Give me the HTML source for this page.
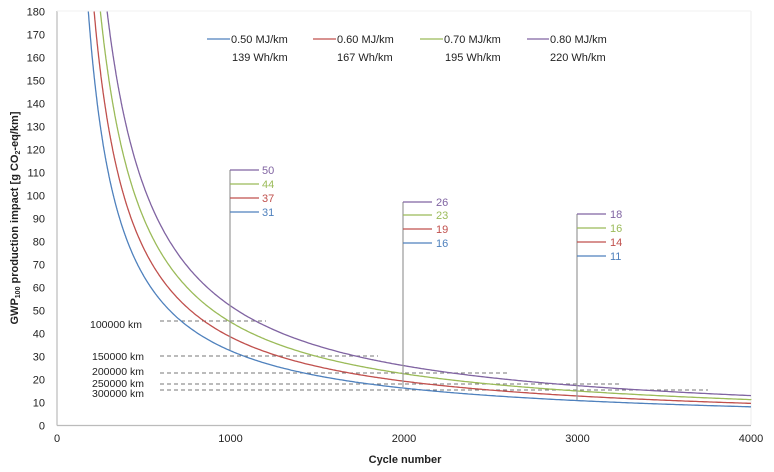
<!DOCTYPE html>
<html><head><meta charset="utf-8"><style>
body{margin:0;background:#fff}
svg{display:block;font-family:"Liberation Sans",Arial,sans-serif}
</style></head><body>
<svg width="774" height="472" viewBox="0 0 774 472" xmlns="http://www.w3.org/2000/svg">
<rect width="774" height="472" fill="#fff"/>
<line x1="57" y1="11" x2="57" y2="425.5" stroke="#bbb" stroke-width="1.2"/>
<line x1="57" y1="425.5" x2="751" y2="425.5" stroke="#bbb" stroke-width="1.2"/>
<line x1="751" y1="11" x2="751" y2="425" stroke="#eee" stroke-width="1"/>
<line x1="57" y1="11" x2="751" y2="11" stroke="#f2f2f2" stroke-width="1"/>
<g font-size="11" fill="#222" text-anchor="end" id="yt"></g>
<g font-size="11" fill="#222" text-anchor="middle" id="xt"></g>
<text x="405" y="463" font-size="11" font-weight="bold" text-anchor="middle" fill="#222">Cycle number</text>
<text transform="translate(18,218) rotate(-90)" font-size="11" font-weight="bold" text-anchor="middle" fill="#222">GWP<tspan font-size="7" dy="2">100</tspan><tspan dy="-2"> production impact [g CO</tspan><tspan font-size="7" dy="2">2</tspan><tspan dy="-2">-eq/km]</tspan></text>
<g stroke="#777" stroke-dasharray="4,3" stroke-width="1">
<line x1="160" y1="321" x2="266" y2="321"/>
<line x1="160" y1="356" x2="378" y2="356"/>
<line x1="160" y1="373" x2="509" y2="373"/>
<line x1="160" y1="384" x2="620" y2="384"/>
<line x1="160" y1="390" x2="708" y2="390"/>
</g>
<g font-size="10.5" fill="#222">
<text x="90" y="328">100000 km</text>
<text x="92" y="360">150000 km</text>
<text x="92" y="375">200000 km</text>
<text x="92" y="387">250000 km</text>
<text x="92" y="397">300000 km</text>
</g>
<g id="curves" fill="none" stroke-width="1.3"></g>
<g stroke="#999" stroke-width="1.2">
<line x1="230" y1="170" x2="230" y2="350"/>
<line x1="403" y1="202" x2="403" y2="387"/>
<line x1="577" y1="214" x2="577" y2="400"/>
</g>
<g stroke-width="1.3">
<line x1="230" y1="170" x2="259" y2="170" stroke="#8064a2"/>
<line x1="230" y1="184" x2="259" y2="184" stroke="#9bbb59"/>
<line x1="230" y1="198" x2="259" y2="198" stroke="#c0504d"/>
<line x1="230" y1="212" x2="259" y2="212" stroke="#4f81bd"/>
<line x1="403" y1="202" x2="432" y2="202" stroke="#8064a2"/>
<line x1="403" y1="215" x2="432" y2="215" stroke="#9bbb59"/>
<line x1="403" y1="229" x2="432" y2="229" stroke="#c0504d"/>
<line x1="403" y1="243" x2="432" y2="243" stroke="#4f81bd"/>
<line x1="577" y1="214" x2="606" y2="214" stroke="#8064a2"/>
<line x1="577" y1="228" x2="606" y2="228" stroke="#9bbb59"/>
<line x1="577" y1="242" x2="606" y2="242" stroke="#c0504d"/>
<line x1="577" y1="256" x2="606" y2="256" stroke="#4f81bd"/>
</g>
<g font-size="11">
<text x="262" y="174" fill="#8064a2">50</text>
<text x="262" y="188" fill="#9bbb59">44</text>
<text x="262" y="202" fill="#c0504d">37</text>
<text x="262" y="216" fill="#4f81bd">31</text>
<text x="436" y="206" fill="#8064a2">26</text>
<text x="436" y="219" fill="#9bbb59">23</text>
<text x="436" y="233" fill="#c0504d">19</text>
<text x="436" y="247" fill="#4f81bd">16</text>
<text x="610" y="218" fill="#8064a2">18</text>
<text x="610" y="232" fill="#9bbb59">16</text>
<text x="610" y="246" fill="#c0504d">14</text>
<text x="610" y="260" fill="#4f81bd">11</text>
</g>
<g stroke-width="1.3">
<line x1="207" y1="39" x2="230" y2="39" stroke="#4f81bd"/>
<line x1="313" y1="39" x2="336" y2="39" stroke="#c0504d"/>
<line x1="420" y1="39" x2="443" y2="39" stroke="#9bbb59"/>
<line x1="527" y1="39" x2="549" y2="39" stroke="#8064a2"/>
</g>
<g font-size="11" fill="#222">
<text x="231" y="43">0.50 MJ/km</text>
<text x="337" y="43">0.60 MJ/km</text>
<text x="444" y="43">0.70 MJ/km</text>
<text x="550" y="43">0.80 MJ/km</text>
<text x="232" y="61">139 Wh/km</text>
<text x="337" y="61">167 Wh/km</text>
<text x="445" y="61">195 Wh/km</text>
<text x="550" y="61">220 Wh/km</text>
</g>
</svg>
<script>
var ns="http://www.w3.org/2000/svg";
function X(v){return 57+v*0.1735}
function Y(v){return 425.5-v*2.3}
var yt=document.getElementById('yt');
for(var v=0;v<=180;v+=10){var t=document.createElementNS(ns,'text');t.setAttribute('x',45);t.setAttribute('y',Y(v)+4);t.textContent=v;yt.appendChild(t);}
var xt=document.getElementById('xt');
for(var v=0;v<=4000;v+=1000){var t=document.createElementNS(ns,'text');t.setAttribute('x',X(v));t.setAttribute('y',442);t.textContent=v;xt.appendChild(t);}
var cs=[[32500,'#4f81bd'],[38500,'#c0504d'],[45000,'#9bbb59'],[52000,'#8064a2']];
var g=document.getElementById('curves');
cs.forEach(function(c){var d='';var x0=c[0]/180;for(var x=x0;x<=4000;x+=(x<600?2:10)){var y=c[0]/x;d+=(d?'L':'M')+X(x).toFixed(1)+','+Y(y).toFixed(1);}d+='L'+X(4000)+','+Y(c[0]/4000);var p=document.createElementNS(ns,'path');p.setAttribute('d',d);p.setAttribute('stroke',c[1]);g.appendChild(p);});
</script>
</body></html>
